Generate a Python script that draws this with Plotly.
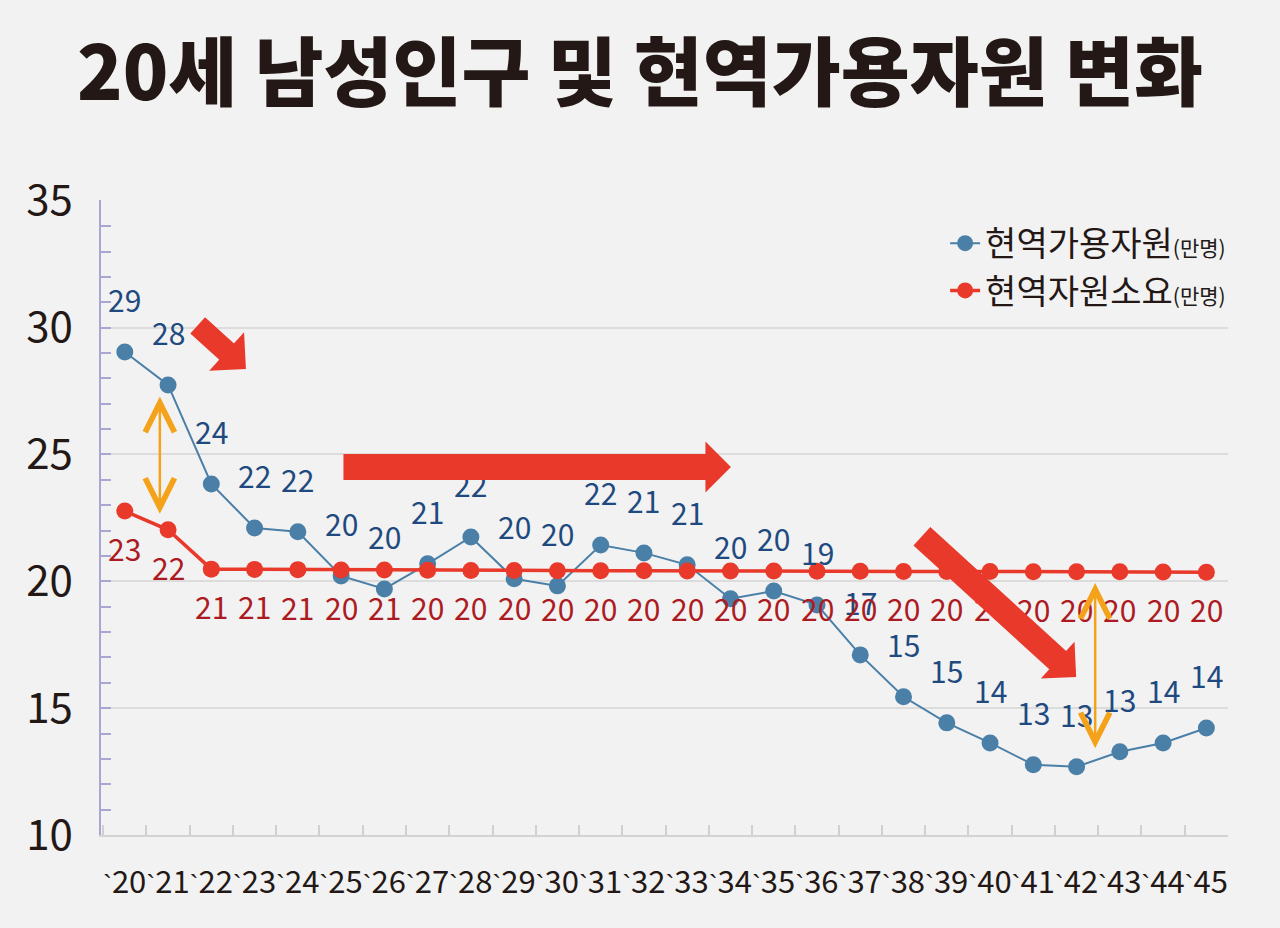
import math
import plotly.graph_objects as go

# 연도 (20세 남성 기준)
years = ["`20", "`21", "`22", "`23", "`24", "`25", "`26", "`27", "`28", "`29",
         "`30", "`31", "`32", "`33", "`34", "`35", "`36", "`37", "`38", "`39",
         "`40", "`41", "`42", "`43", "`44", "`45"]

# 현역가용자원 (만명)
avail = [29.04, 27.74, 23.84, 22.10, 21.95, 20.21, 19.70, 20.69, 21.75, 20.10,
         19.82, 21.43, 21.12, 20.65, 19.31, 19.62, 19.07, 17.10, 15.45, 14.42,
         13.63, 12.77, 12.69, 13.28, 13.63, 14.22]
avail_labels = ["29", "28", "24", "22", "22", "20", "20", "21", "22", "20",
                "20", "22", "21", "21", "20", "20", "19", "17", "15", "15",
                "14", "13", "13", "13", "14", "14"]

# 현역자원소요 (만명)
need = [22.77, 22.03, 20.48, 20.47, 20.46, 20.45, 20.45, 20.44, 20.43, 20.43,
        20.42, 20.42, 20.42, 20.41, 20.41, 20.41, 20.40, 20.40, 20.39, 20.39,
        20.39, 20.38, 20.38, 20.38, 20.37, 20.36]
need_labels = ["23", "22", "21", "21", "21", "20", "21", "20", "20", "20",
               "20", "20", "20", "20", "20", "20", "20", "20", "20", "20",
               "20", "20", "20", "20", "20", "20"]

FONT = "Noto Sans CJK KR"
BG = "#f2f2f2"
INK = "#231815"
BLUE = "#4a7fa7"
RED = "#e8392b"
ORANGE = "#f5a21b"
AXIS = "#aaa6d4"

W, H = 1280, 928
M_L, M_R, M_T, M_B = 101, 52, 200, 93
X_RANGE = [-0.55, 25.5]
Y_RANGE = [10, 35.03]
PX_X = (W - M_L - M_R) / (X_RANGE[1] - X_RANGE[0])
PX_Y = (H - M_T - M_B) / (Y_RANGE[1] - Y_RANGE[0])

# tick text: narrow apostrophe tight against the two digits
tick_text = ["<span style='font-family:Liberation Sans;font-size:26px'>`</span>" + y[1:]
             for y in years]

fig = go.Figure()

fig.add_trace(go.Scatter(
    x=years, y=avail, mode="lines+markers",
    name="현역가용자원<span style='font-size:21px'>(만명)</span>",
    line=dict(color=BLUE, width=2),
    marker=dict(color=BLUE, size=17),
))
fig.add_trace(go.Scatter(
    x=years, y=need, mode="lines+markers",
    name="현역자원소요<span style='font-size:21px'>(만명)</span>",
    line=dict(color=RED, width=3.5),
    marker=dict(color=RED, size=17),
))

annotations = []
for yr, v, t in zip(years, avail, avail_labels):
    annotations.append(dict(x=yr, y=v, text=t, showarrow=False, yshift=53,
                            font=dict(family=FONT, size=30, color="#1f4a80")))
for yr, v, t in zip(years, need, need_labels):
    annotations.append(dict(x=yr, y=v, text=t, showarrow=False, yshift=-37,
                            font=dict(family=FONT, size=30, color="#ad1b22")))


def red_arrow(tail, tip, body_w, head_w):
    # body (no head) up to the neck, then a wide head on a hairline
    dx = (tip[0] - tail[0]) * PX_X
    dy = (tip[1] - tail[1]) * PX_Y
    L = math.hypot(dx, dy)
    back = head_w / 2 - 3
    neck = (tip[0] - dx / L * back / PX_X, tip[1] - dy / L * back / PX_Y)
    common = dict(xref="x", yref="y", axref="x", ayref="y", text="",
                  showarrow=True, arrowcolor=RED, standoff=0)
    return [
        dict(x=neck[0], y=neck[1], ax=tail[0], ay=tail[1],
             arrowhead=0, arrowwidth=body_w, **common),
        dict(x=tip[0], y=tip[1], ax=neck[0], ay=neck[1],
             arrowhead=1, arrowwidth=1, arrowsize=head_w / 6, **common),
    ]


# 굵은 빨간 화살표 (추세 표시)
annotations += red_arrow((1.65, 30.14), (2.80, 28.37), 22, 52)
annotations += red_arrow((5.02, 24.51), (14.01, 24.51), 26, 51)
annotations += red_arrow((18.39, 21.83), (21.99, 16.23), 25, 50)

# 주황색 양방향 화살표 (격차 표시)
for xpos, lo, hi in [(0.81, 22.66, 27.34), (22.43, 13.42, 19.99)]:
    annotations.append(dict(
        x=xpos, y=lo, ax=xpos, ay=hi,
        xref="x", yref="y", axref="x", ayref="y",
        text="", showarrow=True, arrowside="end+start",
        arrowhead=5, startarrowhead=5, arrowwidth=2.5,
        arrowsize=2.3, startarrowsize=2.3, arrowcolor=ORANGE,
    ))

fig.update_layout(
    width=W, height=H, autosize=False,
    paper_bgcolor=BG, plot_bgcolor=BG,
    margin=dict(l=M_L, r=M_R, t=M_T, b=M_B, pad=0),
    title=dict(
        text="20세 남성인구 및 현역가용자원 변화",
        x=0.5, xanchor="center", y=1 - 74 / H, yanchor="middle", yref="container",
        font=dict(family=FONT, size=75, color=INK, weight=900),
    ),
    font=dict(family=FONT, color=INK),
    showlegend=True,
    legend=dict(
        x=0.749, y=0.977, xanchor="left", yanchor="top",
        bgcolor="rgba(0,0,0,0)", font=dict(family=FONT, size=34, color=INK),
    ),
    xaxis=dict(
        type="category", range=X_RANGE,
        tickmode="array", tickvals=years, ticktext=tick_text,
        tickson="boundaries", ticks="inside", ticklen=10, tickcolor="#d0d0d0",
        tickwidth=1.5, showline=True, linecolor="#d3d3d3", linewidth=1.5,
        showgrid=False, tickangle=0, ticklabelstandoff=19,
        tickfont=dict(family=FONT, size=31, color=INK),
    ),
    yaxis=dict(
        range=Y_RANGE, tick0=10, dtick=5,
        ticks="inside", ticklen=10, tickcolor=AXIS, tickwidth=1.5,
        showline=True, linecolor=AXIS, linewidth=1.5,
        showgrid=True, gridcolor="#dcdcdc", gridwidth=1.5, zeroline=False,
        ticklabelstandoff=18,
        tickfont=dict(family=FONT, size=42, color=INK),
        minor=dict(dtick=1, ticks="inside", ticklen=10, tickcolor=AXIS,
                   tickwidth=1.5, showgrid=False),
    ),
    annotations=annotations,
)

fig.write_html("out.html", config={"displayModeBar": False},
               post_script="document.body.style.margin='0';")
